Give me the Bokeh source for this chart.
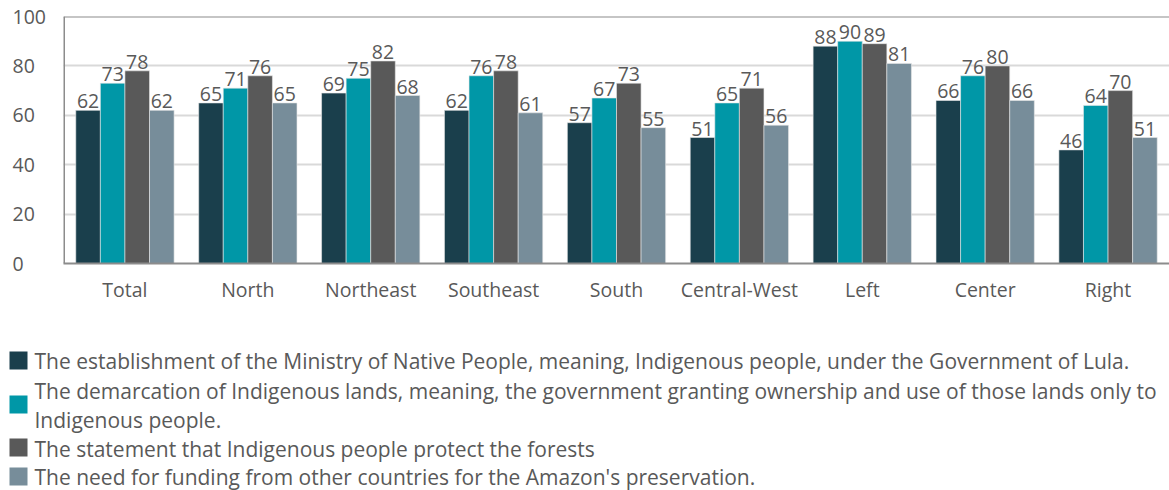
from bokeh.plotting import figure
from bokeh.models import ColumnDataSource, FactorRange, Range1d, Span, Grid, FixedTicker
from bokeh.layouts import column, row
from bokeh.transform import dodge
from bokeh.core.properties import value
from bokeh.embed import file_html
from bokeh.resources import INLINE

categories = ["Total", "North", "Northeast", "Southeast", "South", "Central-West", "Left", "Center", "Right"]
ministry = [62, 65, 69, 62, 57, 51, 88, 66, 46]
demarcation = [73, 71, 75, 76, 67, 65, 90, 76, 64]
protect = [78, 76, 82, 78, 73, 71, 89, 80, 70]
funding = [62, 65, 68, 61, 55, 56, 81, 66, 51]
y_ticks = [0, 20, 40, 60, 80, 100]
legend_labels = [
    ["The establishment of the Ministry of Native People, meaning, Indigenous people, under the Government of Lula."],
    ["The demarcation of Indigenous lands, meaning, the government granting ownership and use of those lands only to",
     "Indigenous people."],
    ["The statement that Indigenous people protect the forests"],
    ["The need for funding from other countries for the Amazon's preservation."],
]
colors = ["#1a3f4c", "#0097a7", "#595959", "#778d9a"]

FONT = "Open Sans"
TXT = "#595959"
AX = "#8c8c8c"

series = [ministry, demarcation, protect, funding]
offsets = [-0.3, -0.1, 0.1, 0.3]

TOP, BOTTOM, H = 16, 47, 310
LEFTW = 63

# main chart
p = figure(width=1169 - LEFTW, height=H, x_range=FactorRange(factors=categories, range_padding=0),
           y_range=Range1d(0, 100), output_backend="svg", toolbar_location=None,
           y_axis_location=None,
           min_border_left=0, min_border_top=TOP, min_border_right=0, min_border_bottom=BOTTOM)
p.frame_align = False
p.outline_line_color = None
p.xgrid.grid_line_color = None
p.add_layout(Grid(dimension=1, ticker=FixedTicker(ticks=y_ticks), grid_line_color="#d9d9d9", grid_line_width=2))
p.xaxis.axis_line_color = AX
p.xaxis.axis_line_width = 2
p.xaxis.major_tick_line_color = None
p.xaxis.major_label_text_font = FONT
p.xaxis.major_label_text_font_size = "19.5px"
p.xaxis.major_label_text_color = TXT
p.xaxis.major_label_standoff = 6
p.add_layout(Span(location=100, dimension="width", line_color=AX, line_width=2))
p.add_layout(Span(location=0, dimension="height", line_color=AX, line_width=3))

for vals, off, col in zip(series, offsets, colors):
    src = ColumnDataSource(dict(cat=categories, v=vals, lbl=[str(v) for v in vals]))
    p.vbar(x=dodge("cat", off, range=p.x_range), top="v", width=0.2, source=src,
           fill_color=col, line_color="#e8e8e8", line_width=0.6)
    p.text(x=dodge("cat", off, range=p.x_range), y="v", text="lbl", source=src,
           text_align="center", text_baseline="bottom", y_offset=-2,
           text_font=value(FONT), text_font_size="19.5px", text_color=TXT)

# left-aligned y tick labels (separate narrow panel aligned with the chart frame)
px_per_unit = (H - TOP - BOTTOM) / 100.0
yfig = figure(width=LEFTW, height=H, x_range=Range1d(0, LEFTW),
              y_range=Range1d(0 - BOTTOM / px_per_unit, 100 + TOP / px_per_unit),
              output_backend="svg", toolbar_location=None,
              x_axis_location=None, y_axis_location=None,
              min_border_left=0, min_border_top=0, min_border_right=0, min_border_bottom=0)
yfig.frame_align = False
yfig.grid.grid_line_color = None
yfig.outline_line_color = None
yfig.text(x=[12] * len(y_ticks), y=y_ticks, text=[str(t) for t in y_ticks],
          text_align="left", text_baseline="middle",
          text_font=value(FONT), text_font_size="19.5px", text_color=TXT)

# legend panel
LH = 490 - H
lg = figure(width=1169, height=LH, x_range=Range1d(0, 1169), y_range=Range1d(LH, 0),
            output_backend="svg", toolbar_location=None,
            x_axis_location=None, y_axis_location=None,
            min_border_left=0, min_border_right=0, min_border_top=0, min_border_bottom=0)
lg.frame_align = False
lg.grid.grid_line_color = None
lg.outline_line_color = None

row_lines_y = [[50], [80, 109], [138], [166]]
sq_y = [50, 94, 137, 166]
for lines, ys, sy, col in zip(legend_labels, row_lines_y, sq_y, colors):
    lg.rect(x=[18], y=[sy], width=18, height=18, width_units="screen", height_units="screen",
            fill_color=col, line_color=None)
    lg.text(x=[34] * len(lines), y=ys, text=lines, text_align="left", text_baseline="middle",
            text_font=value(FONT), text_font_size="21px", text_color=TXT)

layout = column(row(yfig, p, spacing=0), lg, spacing=0)
open("out.html", "w").write(file_html(layout, INLINE))
